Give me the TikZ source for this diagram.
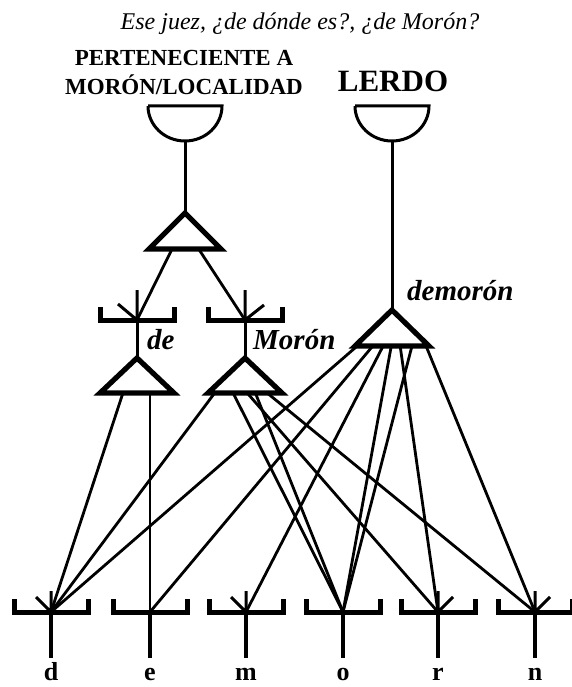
\documentclass[tikz,border=0pt]{standalone}
\usepackage{fontspec}
\setmainfont{Liberation Serif}
\usetikzlibrary{calc}
\tikzstyle{link}=[line width=2.8pt]
\tikzstyle{tri}=[line width=5.2pt, line join=miter]
\tikzstyle{bar}=[line width=5pt]
\tikzstyle{prong}=[line width=3pt]
\tikzstyle{stem}=[line width=3pt]
\tikzstyle{foot}=[line width=4.5pt]
\tikzstyle{cup}=[line width=3pt]
\tikzstyle{caps}=[font=\bfseries\fontsize{23}{26}\selectfont, anchor=base, inner sep=0pt]
\tikzstyle{gloss}=[font=\bfseries\itshape\fontsize{29}{32}\selectfont, anchor=base west, inner sep=0pt]
\tikzstyle{letter}=[font=\bfseries\fontsize{26}{28}\selectfont, anchor=base, inner sep=0pt]
\begin{document}
\begin{tikzpicture}[x=1pt, y=-1pt]
    \useasboundingbox (0,0) rectangle (572,687);
    % texts on top
    \path (300,30) node[font=\itshape\fontsize{24}{26}\selectfont, anchor=base, inner sep=0pt] (title) {Ese juez, ¿de dónde es?, ¿de Morón?}
    (184,66) node[caps] (pert) {PERTENECIENTE A}
    (184,95) node[caps] (loc) {MORÓN/LOCALIDAD}
    (393,92) node[caps, font=\bfseries\fontsize{31}{34}\selectfont] (lerdo) {LERDO};
    % cups
    \path (185,106) coordinate (cupL) ++(0,35) coordinate (cupL-b)
    (392,106) coordinate (cupR) ++(0,35) coordinate (cupR-b);
    \foreach \c in {cupL, cupR}
        \draw[cup] ($(\c)+(-37,0)$) -- ($(\c)+(37,0)$) arc[start angle=0, end angle=180, x radius=37, y radius=35];
    % triangles: apex, left and right corner
    \path (185,213) coordinate (tup) ++(-36,36) coordinate (tup-l) ++(72,0) coordinate (tup-r)
    (137,358) coordinate (tde) ++(-37,35) coordinate (tde-l) ++(74,0) coordinate (tde-r)
    (245,358) coordinate (tmor) ++(-37,35) coordinate (tmor-l) ++(74,0) coordinate (tmor-r)
    (392,310) coordinate (tdem) ++(-37,36) coordinate (tdem-l) ++(74,0) coordinate (tdem-r);
    % brackets
    \path (137,320) coordinate (bde) (245,320) coordinate (bmor)
    (51,612) coordinate (d) (150,612) coordinate (e) (246,612) coordinate (m)
    (343,612) coordinate (o) (438,612) coordinate (r) (535,612) coordinate (n);
    \foreach \b in {bde, bmor, d, e, m, o, r, n}
        \draw[bar] ($(\b)+(-37,-13)$) -- ++(0,13) -- ++(74,0) -- ++(0,-13);
    \foreach \b in {d, e, m, o, r, n}
        \draw[foot] (\b) -- ++(0,46);
    \draw[prong] (bde) -- ++(0,-30) (bde) -- ++(-19,-16);
    \draw[prong] (bmor) -- ++(0,-30) (bmor) -- ++(19,-15);
    \draw[prong] (d) -- ++(0,-21) (d) -- ++(-15,-15);
    \draw[prong] (m) -- ++(0,-21) (m) -- ++(-15,-15);
    \draw[prong] (r) -- ++(0,-21) (r) -- ++(15,-15);
    \draw[prong] (n) -- ++(0,-21) (n) -- ++(15,-15);
    \foreach \t in {tup, tde, tmor, tdem}
        \draw[tri] (\t) -- (\t-l) -- (\t-r) -- cycle;
    % stems
    \draw[stem] (cupL-b) -- (tup);
    \draw[stem] (cupR-b) -- (tdem);
    \draw[stem] (bde) -- (tde);
    \draw[stem] (bmor) -- (tmor);
    % connectors
    \draw[link] ($(tup-l)!.32!(tup-r)$) -- (bde);
    \draw[link] ($(tup-l)!.69!(tup-r)$) -- (bmor);
    \draw[link] ($(tde-l)!.31!(tde-r)$) -- (d);
    \draw[link] (e |- tde-l) -- (e);
    \foreach \f/\to in {.09/d, .34/o, .53/r, .64/o, .80/n}
        \draw[link] ($(tmor-l)!\f!(tmor-r)$) -- (\to);
    \foreach \f/\to in {.03/d, .24/e, .38/m, .49/o, .61/r, .77/o, .96/n}
        \draw[link] ($(tdem-l)!\f!(tdem-r)$) -- (\to);
    % glosses
    \node[gloss] (gde) at (147,349) {de};
    \node[gloss] (gmor) at (253,349) {Morón};
    \node[gloss] (gdem) at (407,300) {demorón};
    \foreach \b in {d, e, m, o, r, n}
        \node[letter] (l\b) at ($(\b)+(0,68)$) {\b};
\end{tikzpicture}
\end{document}
